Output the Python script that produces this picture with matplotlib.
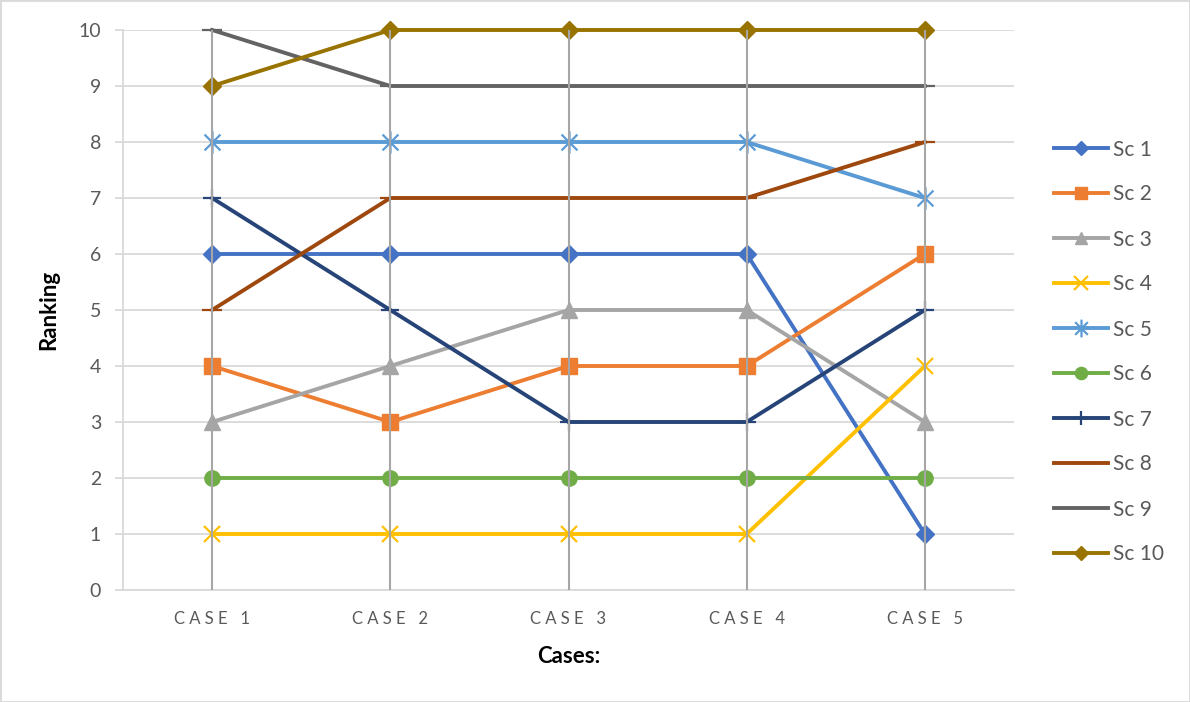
import matplotlib.pyplot as plt
from matplotlib.path import Path
from matplotlib.patches import Rectangle

# data
cases = ["CASE 1", "CASE 2", "CASE 3", "CASE 4", "CASE 5"]
sc1 = [6, 6, 6, 6, 1]
sc2 = [4, 3, 4, 4, 6]
sc3 = [3, 4, 5, 5, 3]
sc4 = [1, 1, 1, 1, 4]
sc5 = [8, 8, 8, 8, 7]
sc6 = [2, 2, 2, 2, 2]
sc7 = [7, 5, 3, 3, 5]
sc8 = [5, 7, 7, 7, 8]
sc9 = [10, 9, 9, 9, 9]
sc10 = [9, 10, 10, 10, 10]
names = ["Sc 1", "Sc 2", "Sc 3", "Sc 4", "Sc 5", "Sc 6", "Sc 7", "Sc 8", "Sc 9", "Sc 10"]
series = [sc1, sc2, sc3, sc4, sc5, sc6, sc7, sc8, sc9, sc10]

colors = ["#4472C4", "#ED7D31", "#A5A5A5", "#FFC000", "#5B9BD5",
          "#70AD47", "#264478", "#9E480E", "#636363", "#997300"]

# star marker = x plus vertical bar
star = Path([(-1, -1), (1, 1), (-1, 1), (1, -1), (0, -1.4), (0, 1.4)],
            [Path.MOVETO, Path.LINETO, Path.MOVETO, Path.LINETO, Path.MOVETO, Path.LINETO])
markers = ["D", "s", "^", "x", star, "o", "+", "_", "_", "D"]
msizes = [9, 11, 11, 12, 16, 11, 13, 14, 14, 9]

plt.rcParams['font.family'] = ['Lato', 'DejaVu Sans']

fig = plt.figure(figsize=(11.9, 7.02), dpi=100)
ax = fig.add_axes([123 / 1190, 1 - 590 / 702, (1014 - 123) / 1190, 560 / 702])

x = list(range(len(cases)))
for i, (vals, name) in enumerate(zip(series, names)):
    hollow = markers[i] in ("x", "+", "_") or markers[i] is star
    ax.plot(x, vals, color=colors[i], lw=2.8, marker=markers[i], ms=msizes[i],
            mec=colors[i], mfc=colors[i], mew=1.6 if hollow else 1,
            label=name, clip_on=False, zorder=3 + i * 0.1)

# vertical category lines
for xi in x:
    ax.plot([xi, xi], [0, 10], color="#A6A6A6", lw=1.5, zorder=5)

ax.set_xlim(-0.5, len(cases) - 0.5)
ax.set_ylim(0, 10)
ax.set_yticks(range(0, 11))
ax.grid(axis="y", color="#D9D9D9", lw=1.3, zorder=0)
ax.set_axisbelow(True)
ax.set_xticks(x)
ax.set_xticklabels([" ".join(c.replace(" ", "")[:4]) + "   " + c.split()[1] for c in cases])
for s in ["top", "right"]:
    ax.spines[s].set_visible(False)
for s in ["left", "bottom"]:
    ax.spines[s].set_color("#D9D9D9")
    ax.spines[s].set_linewidth(1.3)
ax.tick_params(axis="y", length=5.8, width=1.3, color="#D9D9D9", pad=10,
               labelsize=14, labelcolor="#595959")
ax.tick_params(axis="x", length=0, pad=15, labelsize=12, labelcolor="#595959")

ax.set_xlabel("Cases:", fontsize=16, fontweight="bold", labelpad=14)
ax.set_ylabel("Ranking", fontsize=16, fontweight="bold", labelpad=14)

fig.legend(loc="center left", bbox_to_anchor=(1054 / 1190, 1 - 352 / 702),
           frameon=False, fontsize=15, handlelength=2.6, handletextpad=0.25,
           labelspacing=1.2, borderpad=0, borderaxespad=0, labelcolor="#595959",
           markerscale=0.8)

fig.patches.append(Rectangle((0, 0), 1, 1, transform=fig.transFigure, fill=False,
                             edgecolor="#D9D9D9", lw=2))

fig.savefig("out.png", dpi=100)
